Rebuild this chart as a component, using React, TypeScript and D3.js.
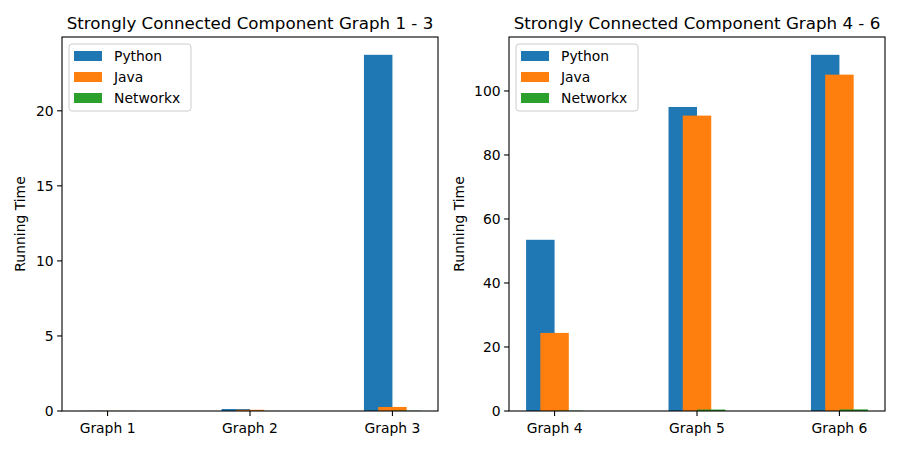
import React from "react";
import * as d3 from "d3";

const series = ["Python", "Java", "Networkx"];
const colors = ["#1f77b4", "#ff7f0e", "#2ca02c"];

const graphsLeft = ["Graph 1", "Graph 2", "Graph 3"];
const pythonLeft = [0.01, 0.13, 23.73];
const javaLeft = [0.01, 0.08, 0.27];
const networkxLeft = [0.005, 0.01, 0.02];
const ticksLeft = [0, 5, 10, 15, 20];

const graphsRight = ["Graph 4", "Graph 5", "Graph 6"];
const pythonRight = [53.5, 95.0, 111.3];
const javaRight = [24.4, 92.3, 105.1];
const networkxRight = [0.1, 0.45, 0.5];
const ticksRight = [0, 20, 40, 60, 80, 100];

const W = 900;
const H = 450;
const top = 37;
const bottom = 411;
const font = "DejaVu Sans, sans-serif";
const barW = 0.2;
const offsets = [-0.1, 0, 0.1]; // bar centres relative to each tick

function Panel({ left, title, cats, values, ticks, labelOff }: any) {
  const right = left + 376;
  const x = d3.scaleLinear().domain([-0.32, 2.32]).range([left, right]);
  const maxV = d3.max(values.flat() as number[]) as number;
  const y = d3.scaleLinear().domain([0, maxV * 1.05]).range([bottom, top]);

  return (
    <g>
      {values.map((vals: number[], s: number) =>
        vals.map((v, i) => (
          <rect
            key={s + "-" + i}
            x={x(i + offsets[s] - barW / 2)}
            width={x(barW) - x(0)}
            y={y(v)}
            height={y(0) - y(v)}
            fill={colors[s]}
          />
        ))
      )}
      <rect x={left} y={top} width={right - left} height={bottom - top} fill="none" stroke="#000" strokeWidth={1.1} />
      {cats.map((c: string, i: number) => (
        <g key={c}>
          <line x1={x(i)} x2={x(i)} y1={bottom} y2={bottom + 4.9} stroke="#000" strokeWidth={1.1} />
          <text x={x(i)} y={bottom + 22} textAnchor="middle" fontSize={13.9} fontFamily={font} fill="#000">{c}</text>
        </g>
      ))}
      {ticks.map((t: number) => (
        <g key={t}>
          <line x1={left - 4.9} x2={left} y1={y(t)} y2={y(t)} stroke="#000" strokeWidth={1.1} />
          <text x={left - 8.4} y={y(t)} dy="0.35em" textAnchor="end" fontSize={13.9} fontFamily={font} fill="#000">{t}</text>
        </g>
      ))}
      <text
        transform={`translate(${left - labelOff},${(top + bottom) / 2}) rotate(-90)`}
        textAnchor="middle"
        fontSize={13.9}
        fontFamily={font}
        fill="#000"
      >
        Running Time
      </text>
      <text x={(left + right) / 2} y={top - 8} textAnchor="middle" fontSize={16.7} fontFamily={font} fill="#000">
        {title}
      </text>
      <g transform={`translate(${left + 7},${top + 7})`}>
        <rect x={0} y={0} width={122} height={67} rx={3} fill="#fff" fillOpacity={0.8} stroke="#ccc" strokeWidth={1} />
        {series.map((s, i) => (
          <g key={s} transform={`translate(0,${12 + i * 21})`}>
            <rect x={5} y={-5} width={28} height={10} fill={colors[i]} />
            <text x={45} y={0} dy="0.35em" fontSize={13.9} fontFamily={font} fill="#000">{s}</text>
          </g>
        ))}
      </g>
    </g>
  );
}

export default function App() {
  return (
    <svg width={W} height={H} style={{ display: "block", position: "absolute", left: 0, top: 0, background: "#fff" }}>
      <rect width={W} height={H} fill="#fff" />
      <Panel
        left={62}
        title="Strongly Connected Component Graph 1 - 3"
        cats={graphsLeft}
        values={[pythonLeft, javaLeft, networkxLeft]}
        ticks={ticksLeft}
        labelOff={37}
      />
      <Panel
        left={509}
        title="Strongly Connected Component Graph 4 - 6"
        cats={graphsRight}
        values={[pythonRight, javaRight, networkxRight]}
        ticks={ticksRight}
        labelOff={45}
      />
    </svg>
  );
}
